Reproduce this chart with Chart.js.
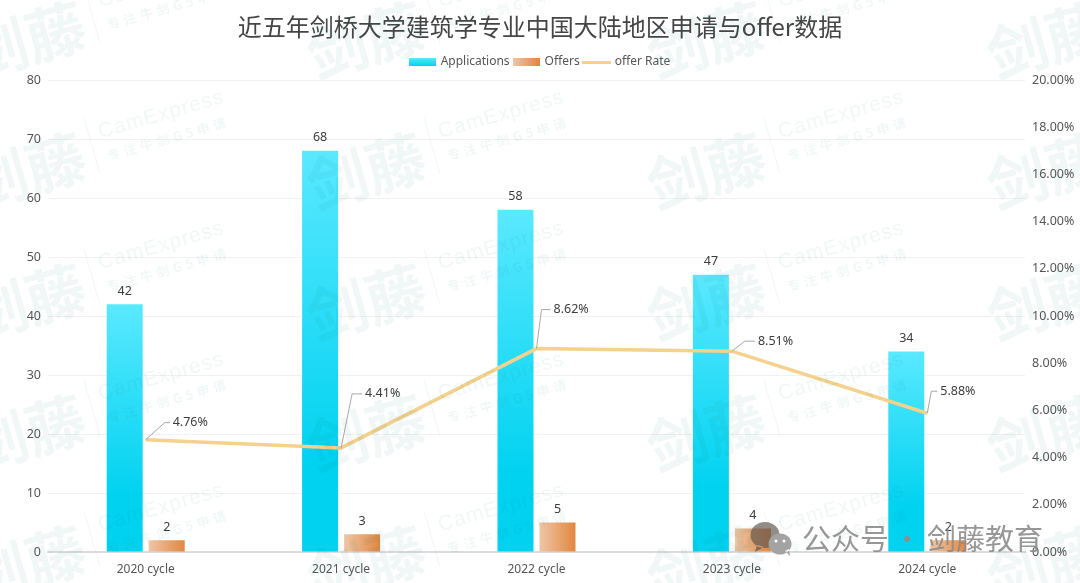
<!DOCTYPE html>
<html lang="zh-CN">
<head>
    <meta charset="UTF-8">
    <title>近五年剑桥大学建筑学专业中国大陆地区申请与offer数据</title>
    <script src="https://cdn.jsdelivr.net/npm/chart.js"></script>
    <style>
        html, body { margin: 0; padding: 0; background: #fff; }
        canvas { display: block; }
    </style>
</head>
<body>
    <canvas id="offerChart" width="1080" height="583"></canvas>
    <script>
        const titleText = '近五年剑桥大学建筑学专业中国大陆地区申请与offer数据';
        const cycles = ['2020 cycle', '2021 cycle', '2022 cycle', '2023 cycle', '2024 cycle'];
        const applications = [42, 68, 58, 47, 34];
        const offers = [2, 3, 5, 4, 2];
        const offerRate = [4.76, 4.41, 8.62, 8.51, 5.88];

        const fontFamily = '"Noto Sans", "Noto Sans CJK SC", sans-serif';
        const cjkFamily = '"Noto Sans CJK SC", sans-serif';
        const textColor = '#555';
        const labelColor = '#3c3c3c';
        const lineColor = '#f4d18c';

        // legend swatches are small canvases so each item keeps its own shape
        const makeSwatch = (w, h, paint) => {
            const c = document.createElement('canvas');
            c.width = w;
            c.height = h;
            paint(c.getContext('2d'), w, h);
            return c;
        };
        const swatches = [
            makeSwatch(27, 8, (g, w, h) => {
                const f = g.createLinearGradient(0, 0, 0, h);
                f.addColorStop(0, '#5ae9ff');
                f.addColorStop(1, '#00d2f0');
                g.fillStyle = f;
                g.fillRect(0, 0, w, h);
            }),
            makeSwatch(27, 8, (g, w, h) => {
                const f = g.createLinearGradient(0, 0, w, 0);
                f.addColorStop(0, '#efc6a6');
                f.addColorStop(1, '#e2873f');
                g.fillStyle = f;
                g.fillRect(0, 0, w, h);
            }),
            makeSwatch(29, 3, (g, w, h) => {
                g.fillStyle = lineColor;
                g.fillRect(0, 0, w, h);
            })
        ];

        // a little more room under the legend
        const legendGap = {
            id: 'legendGap',
            beforeInit(chart) {
                const fit = chart.legend.fit;
                chart.legend.fit = function () {
                    fit.call(this);
                    this.height += 2;
                };
            }
        };

        // per bar gradients, they need the final bar geometry
        const barGradients = {
            id: 'barGradients',
            beforeDatasetsDraw(chart) {
                const ctx = chart.ctx;
                [0, 1].forEach(i => {
                    chart.getDatasetMeta(i).data.forEach(bar => {
                        let f;
                        if (i === 0) {
                            f = ctx.createLinearGradient(0, bar.y, 0, bar.base);
                            f.addColorStop(0, '#5ae9ff');
                            f.addColorStop(0.78, '#00d2f0');
                            f.addColorStop(1, '#00d2f0');
                        } else {
                            f = ctx.createLinearGradient(bar.x - bar.width / 2, 0, bar.x + bar.width / 2, 0);
                            f.addColorStop(0, '#efc6a6');
                            f.addColorStop(1, '#e2873f');
                        }
                        bar.options = Object.assign({}, bar.options, { backgroundColor: f });
                    });
                });
            }
        };

        // offsets of the leader lines for the rate labels: [dx1, dy1, dx2, dy2]
        const leaderOffsets = [
            [19, -17, 5, 0],
            [11, -54, 10, 0],
            [5, -39, 9, 0],
            [13, -10, 10, 0],
            [4, -22, 6, 0]
        ];

        const valueLabels = {
            id: 'valueLabels',
            afterDatasetsDraw(chart) {
                const ctx = chart.ctx;
                ctx.save();
                ctx.font = '12.5px ' + fontFamily;
                ctx.fillStyle = labelColor;
                ctx.textAlign = 'center';
                ctx.textBaseline = 'bottom';
                [0, 1].forEach(i => {
                    chart.getDatasetMeta(i).data.forEach((bar, j) => {
                        ctx.fillText(chart.data.datasets[i].data[j], bar.x, bar.y - 7);
                    });
                });
                ctx.textAlign = 'left';
                ctx.textBaseline = 'middle';
                chart.getDatasetMeta(2).data.forEach((pt, j) => {
                    const o = leaderOffsets[j];
                    const x1 = pt.x + o[0], y1 = pt.y + o[1];
                    const x2 = x1 + o[2], y2 = y1 + o[3];
                    ctx.strokeStyle = '#a8a8a8';
                    ctx.lineWidth = 1;
                    ctx.beginPath();
                    ctx.moveTo(pt.x, pt.y);
                    ctx.lineTo(x1, y1);
                    ctx.lineTo(x2, y2);
                    ctx.stroke();
                    ctx.fillText(offerRate[j].toFixed(2) + '%', x2 + 3, y2);
                });
                ctx.restore();
            }
        };

        // repeated CamExpress watermark and the account mark in the corner
        const watermark = {
            id: 'watermark',
            afterDraw(chart) {
                const ctx = chart.ctx;
                ctx.save();
                ctx.fillStyle = 'rgba(0, 120, 110, 0.06)';
                ctx.strokeStyle = 'rgba(0, 120, 110, 0.06)';
                for (let col = 0; col < 4; col++) {
                    for (let row = -1; row < 4; row++) {
                        ctx.save();
                        ctx.translate(84 + col * 340, 118 + row * 131);
                        ctx.rotate(-16 * Math.PI / 180);
                        ctx.textBaseline = 'alphabetic';
                        ctx.textAlign = 'right';
                        ctx.font = 'bold 60px ' + cjkFamily;
                        ctx.fillText('剑藤', -10, 58);
                        ctx.beginPath();
                        ctx.moveTo(0, 0);
                        ctx.lineTo(0, 58);
                        ctx.stroke();
                        ctx.textAlign = 'left';
                        ctx.font = '21px "Liberation Sans", sans-serif';
                        ctx.letterSpacing = '1px';
                        ctx.fillText('CamExpress', 10, 24);
                        ctx.font = 'bold 13px ' + cjkFamily;
                        ctx.letterSpacing = '4px';
                        ctx.fillText('专注牛剑G5申请', 12, 48);
                        ctx.restore();
                    }
                }
                ctx.letterSpacing = '0px';

                // chat bubbles of the account mark
                ctx.fillStyle = 'rgba(95, 85, 80, 0.68)';
                ctx.beginPath();
                ctx.ellipse(765, 535, 14.5, 13, 0, 0, Math.PI * 2);
                ctx.moveTo(757, 545);
                ctx.lineTo(755, 552);
                ctx.lineTo(764, 547);
                ctx.fill();
                ctx.fillStyle = '#a3a3a3';
                ctx.beginPath();
                ctx.ellipse(780, 544, 11.5, 10.5, 0, 0, Math.PI * 2);
                ctx.moveTo(785, 551);
                ctx.lineTo(790, 556);
                ctx.lineTo(789, 549);
                ctx.fill();
                ctx.fillStyle = '#fff';
                [[776, 541], [784, 541]].forEach(p => {
                    ctx.beginPath();
                    ctx.arc(p[0], p[1], 1.5, 0, Math.PI * 2);
                    ctx.fill();
                });
                ctx.fillStyle = 'rgba(140, 140, 140, 0.9)';
                ctx.font = '29px ' + cjkFamily;
                ctx.textAlign = 'left';
                ctx.textBaseline = 'middle';
                ctx.fillText('公众号', 802, 539);
                ctx.textAlign = 'center';
                ctx.fillText('·', 907, 539);
                ctx.textAlign = 'left';
                ctx.fillText('剑藤教育', 927, 539);
                ctx.restore();
            }
        };

        new Chart(document.getElementById('offerChart').getContext('2d'), {
            data: {
                labels: cycles,
                datasets: [
                    {
                        type: 'bar',
                        label: 'Applications',
                        data: applications,
                        yAxisID: 'y',
                        backgroundColor: '#00d2f0',
                        categoryPercentage: 0.43,
                        barPercentage: 0.857,
                        order: 2
                    },
                    {
                        type: 'bar',
                        label: 'Offers',
                        data: offers,
                        yAxisID: 'y',
                        backgroundColor: '#e2873f',
                        categoryPercentage: 0.43,
                        barPercentage: 0.857,
                        order: 2
                    },
                    {
                        type: 'line',
                        label: 'offer Rate',
                        data: offerRate,
                        yAxisID: 'y1',
                        borderColor: lineColor,
                        borderWidth: 3.5,
                        pointRadius: 0,
                        tension: 0,
                        order: 1
                    }
                ]
            },
            options: {
                responsive: false,
                animation: false,
                layout: { padding: 0 },
                plugins: {
                    tooltip: { enabled: false },
                    title: {
                        display: true,
                        text: titleText,
                        color: '#454545',
                        font: { family: cjkFamily, size: 24, weight: 'normal', lineHeight: 1.2 },
                        padding: { top: 12, bottom: 11.2 }
                    },
                    legend: {
                        display: true,
                        labels: {
                            usePointStyle: true,
                            pointStyleWidth: 25,
                            padding: 4,
                            color: textColor,
                            font: { family: fontFamily, size: 12 },
                            generateLabels: chart => chart.data.datasets.map((ds, i) => ({
                                text: ds.label,
                                pointStyle: swatches[i],
                                fontColor: textColor,
                                fillStyle: 'transparent',
                                strokeStyle: 'transparent',
                                lineWidth: 0,
                                hidden: false,
                                datasetIndex: i
                            }))
                        }
                    }
                },
                scales: {
                    x: {
                        grid: { display: false, drawTicks: false },
                        border: { display: true, color: '#dcdcdc', width: 2 },
                        ticks: { color: textColor, font: { family: fontFamily, size: 12 }, padding: 10, maxRotation: 0 },
                        afterFit: s => { s.height = 31; }
                    },
                    y: {
                        position: 'left',
                        min: 0,
                        max: 80,
                        grid: { color: '#f1f1f1', drawTicks: false },
                        border: { display: false },
                        ticks: { stepSize: 10, color: textColor, font: { family: fontFamily, size: 12.5 }, padding: 7 },
                        afterFit: s => { s.width = 48; }
                    },
                    y1: {
                        position: 'right',
                        min: 0,
                        max: 20,
                        grid: { display: false, drawTicks: false },
                        border: { display: false },
                        ticks: {
                            stepSize: 2,
                            color: textColor,
                            font: { family: fontFamily, size: 12.5 },
                            padding: 7,
                            callback: v => v.toFixed(2) + '%'
                        },
                        afterFit: s => { s.width = 55; }
                    }
                }
            },
            plugins: [legendGap, barGradients, valueLabels, watermark]
        });
    </script>
</body>
</html>
